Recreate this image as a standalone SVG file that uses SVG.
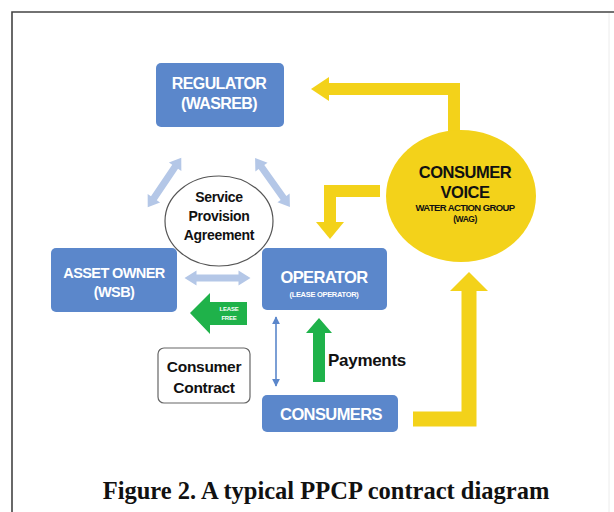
<svg xmlns="http://www.w3.org/2000/svg" width="614" height="512" viewBox="0 0 614 512">
<style>
.box{fill:#5b87cb}
.wt{fill:#fff;font-family:"Liberation Sans",Arial,sans-serif;font-weight:bold;text-anchor:middle}
.bk{fill:#111;font-family:"Liberation Sans",Arial,sans-serif;font-weight:bold;text-anchor:middle}
.lb{fill:#b4c7e7}
.yl{fill:none;stroke:#f3d21a;stroke-linejoin:miter}
.yh{fill:#f3d21a}
.gr{fill:#1fb24a}
</style>
<defs>
<marker id="tb" viewBox="0 0 10 10" refX="9" refY="5" markerWidth="5" markerHeight="5" orient="auto-start-reverse"><path d="M0,0 L10,5 L0,10 z" fill="#5b87cb"/></marker>
</defs>
<rect width="614" height="512" fill="#fff"/>
<path d="M12,512 V12 H614" fill="none" stroke="#444" stroke-width="1.6"/>
<line x1="609" y1="13" x2="609" y2="512" stroke="#ececec" stroke-width="1"/>

<g id="connectors">
  <polyline class="yl" stroke-width="12" points="454,132 454,89 327,89"/>
  <polygon class="yh" points="311,89 329,77 329,101"/>
  <polyline class="yl" stroke-width="12" points="380,191 330,191 330,224"/>
  <polygon class="yh" points="316,222 344,222 330,239"/>
  <polyline class="yl" stroke-width="15" points="413,419 469,419 469,289"/>
  <polygon class="yh" points="450,291 488,291 469,272"/>
  <g transform="translate(164.5,182.5) rotate(-56)">
    <polygon class="lb" points="-30,0 -19,-7.5 -19,-3.5 19,-3.5 19,-7.5 30,0 19,7.5 19,3.5 -19,3.5 -19,7.5"/>
  </g>
  <g transform="translate(272.5,182.5) rotate(54.5)">
    <polygon class="lb" points="-30,0 -19,-7.5 -19,-3.5 19,-3.5 19,-7.5 30,0 19,7.5 19,3.5 -19,3.5 -19,7.5"/>
  </g>
  <g transform="translate(217.5,278)">
    <polygon class="lb" points="-33,0 -21,-7.5 -21,-3.5 21,-3.5 21,-7.5 33,0 21,7.5 21,3.5 -21,3.5 -21,7.5"/>
  </g>
  <line x1="276" y1="317" x2="276" y2="386" stroke="#5b87cb" stroke-width="1.6" marker-start="url(#tb)" marker-end="url(#tb)"/>
  <g id="lease-free">
    <polygon class="gr" points="190,313 210,293 210,302 247,302 247,325 210,325 210,334"/>
    <text class="wt" x="229" y="311" font-size="6" letter-spacing="-0.2">LEASE</text>
    <text class="wt" x="229" y="320" font-size="6" letter-spacing="-0.2">FREE</text>
  </g>
  <g id="payments">
    <polygon class="gr" points="319,318 332,333 325,333 325,382 313,382 313,333 306,333"/>
    <text class="bk" x="367" y="366" font-size="17" letter-spacing="-0.3">Payments</text>
  </g>
</g>

<g id="regulator">
  <rect class="box" x="156" y="63" width="128" height="64" rx="5"/>
  <text class="wt" x="219" y="89" font-size="16" letter-spacing="-0.6">REGULATOR</text>
  <text class="wt" x="219" y="109" font-size="16" letter-spacing="-0.6">(WASREB)</text>
</g>
<g id="asset-owner">
  <rect class="box" x="51" y="248" width="126" height="64" rx="5"/>
  <text class="wt" x="114" y="278" font-size="14.5" letter-spacing="-0.6">ASSET OWNER</text>
  <text class="wt" x="114" y="297" font-size="14.5" letter-spacing="-0.6">(WSB)</text>
</g>
<g id="operator">
  <rect class="box" x="262" y="248" width="125" height="62" rx="5"/>
  <text class="wt" x="324" y="283" font-size="16.5" letter-spacing="-0.6">OPERATOR</text>
  <text class="wt" x="324" y="297" font-size="7.5" letter-spacing="-0.3">(LEASE OPERATOR)</text>
</g>
<g id="consumers">
  <rect class="box" x="262" y="395" width="136" height="37" rx="5"/>
  <text class="wt" x="331" y="420" font-size="16.5" letter-spacing="-0.6">CONSUMERS</text>
</g>
<g id="service-provision-agreement">
  <ellipse cx="219" cy="221" rx="54" ry="45" fill="#fff" stroke="#555" stroke-width="1.2"/>
  <text class="bk" x="219" y="202" font-size="14" letter-spacing="-0.3">Service</text>
  <text class="bk" x="219" y="221" font-size="14" letter-spacing="-0.3">Provision</text>
  <text class="bk" x="219" y="240" font-size="14" letter-spacing="-0.3">Agreement</text>
</g>
<g id="consumer-voice">
  <ellipse cx="461" cy="196" rx="75" ry="66" fill="#f3d21a"/>
  <text class="bk" x="465" y="178" font-size="16.5" letter-spacing="-0.5">CONSUMER</text>
  <text class="bk" x="465" y="198" font-size="16.5" letter-spacing="-0.5">VOICE</text>
  <text class="bk" x="465" y="211" font-size="9.5" letter-spacing="-0.6">WATER ACTION GROUP</text>
  <text class="bk" x="465" y="222" font-size="8.5" letter-spacing="-0.5">(WAG)</text>
</g>
<g id="consumer-contract">
  <rect x="158" y="348" width="92" height="55" rx="6" fill="#fff" stroke="#666" stroke-width="1.2"/>
  <text class="bk" x="204" y="372" font-size="15.5" letter-spacing="-0.3">Consumer</text>
  <text class="bk" x="204" y="393" font-size="15.5" letter-spacing="-0.3">Contract</text>
</g>
<text x="326" y="499" font-family="'Liberation Serif','Times New Roman',serif" font-weight="bold" font-size="24.5" text-anchor="middle" fill="#111">Figure 2. A typical PPCP contract diagram</text>
</svg>
